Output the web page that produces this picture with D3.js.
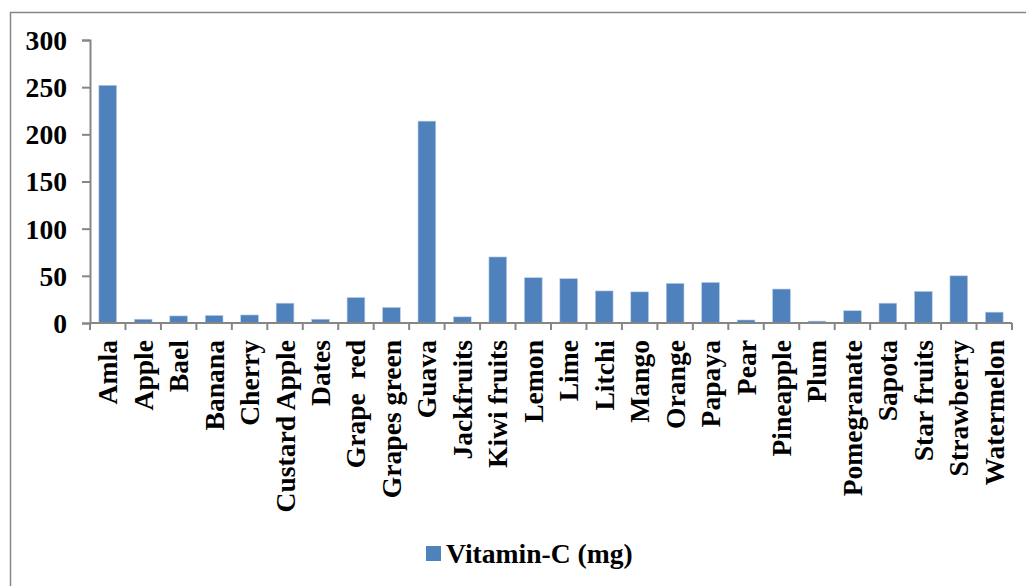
<!DOCTYPE html>
<html>
<head>
<meta charset="utf-8">
<script src="https://cdn.jsdelivr.net/npm/d3@7"></script>
<style>
  body { margin: 0; background: #fff; }
  svg { display: block; }
  text { font-family: "Liberation Serif", "Times New Roman", serif; font-weight: bold; fill: #000; }
</style>
</head>
<body>
<svg id="chart"></svg>
<script>
const fruits = ["Amla", "Apple", "Bael", "Banana", "Cherry", "Custard Apple", "Dates", "Grape  red",
  "Grapes green", "Guava", "Jackfruits", "Kiwi fruits", "Lemon", "Lime", "Litchi", "Mango", "Orange",
  "Papaya", "Pear", "Pineapple", "Plum", "Pomegranate", "Sapota", "Star fruits", "Strawberry", "Watermelon"];
const vitaminC = [252, 4, 7.5, 8, 8.5, 21, 4, 27, 16.5, 214, 6.5, 70, 48, 47, 34, 33, 42, 43, 3.2, 36, 2, 13, 21, 33.5, 50, 11.5];
const yTicks = [0, 50, 100, 150, 200, 250, 300];
const seriesName = "Vitamin-C (mg)";

const width = 1026, height = 586;
const margin = { top: 40, right: 14, bottom: 263, left: 90 };
const color = "#4f81bd";
const axisColor = "#868686";
const fontSize = "27.6px";

const svg = d3.select("#chart").attr("width", width).attr("height", height);

// outer frame (cut off on right and bottom)
svg.append("rect")
  .attr("x", 10.5).attr("y", 12.5)
  .attr("width", 1030).attr("height", 600)
  .attr("fill", "none").attr("stroke", axisColor).attr("stroke-width", 1.5);

const x = d3.scaleBand()
  .domain(fruits)
  .range([margin.left, width - margin.right])
  .paddingInner(0.5)
  .paddingOuter(0.25);

const y = d3.scaleLinear()
  .domain([0, 300])
  .range([height - margin.bottom, margin.top]);

const g = svg.append("g");

g.selectAll(".bar")
  .data(vitaminC)
  .enter().append("rect")
  .attr("class", "bar")
  .attr("x", (d, i) => x(fruits[i]))
  .attr("y", d => y(d))
  .attr("width", x.bandwidth())
  .attr("height", d => y(0) - y(d))
  .attr("fill", color)
  .attr("stroke", "#b9cde5")
  .attr("stroke-width", 0.6);

// y axis
const yAxis = svg.append("g")
  .attr("transform", `translate(${margin.left},0)`)
  .call(d3.axisLeft(y).tickValues(yTicks).tickSize(8).tickPadding(15));
yAxis.select(".domain").attr("stroke", axisColor).attr("stroke-width", 2);
yAxis.selectAll(".tick line").attr("stroke", axisColor).attr("stroke-width", 2);
yAxis.selectAll(".tick text")
  .style("font-size", fontSize)
  .attr("dy", "0.34em");

// x axis: ticks between categories
const step = x.step();
const x0 = margin.left, x1 = width - margin.right;
const xAxisG = svg.append("g");
xAxisG.append("line")
  .attr("x1", x0).attr("x2", x1)
  .attr("y1", y(0)).attr("y2", y(0))
  .attr("stroke", axisColor).attr("stroke-width", 2);
xAxisG.selectAll(".xtick")
  .data(d3.range(fruits.length + 1))
  .enter().append("line")
  .attr("x1", i => x0 + i * step).attr("x2", i => x0 + i * step)
  .attr("y1", y(0)).attr("y2", y(0) + 7)
  .attr("stroke", axisColor).attr("stroke-width", 2);

xAxisG.selectAll(".xlabel")
  .data(fruits)
  .enter().append("text")
  .attr("transform", d => `translate(${x(d) + x.bandwidth() / 2 + 9.5},${y(0) + 17}) rotate(-90)`)
  .attr("text-anchor", "end")
  .style("font-size", fontSize)
  .style("white-space", "pre")
  .attr("xml:space", "preserve")
  .text(d => d);

// legend
const legend = svg.append("g").attr("transform", "translate(426,546)");
legend.append("rect")
  .attr("width", 15).attr("height", 15)
  .attr("fill", color);
legend.append("text")
  .attr("x", 20).attr("y", 16.5)
  .style("font-size", fontSize)
  .text(seriesName);
</script>
</body>
</html>
